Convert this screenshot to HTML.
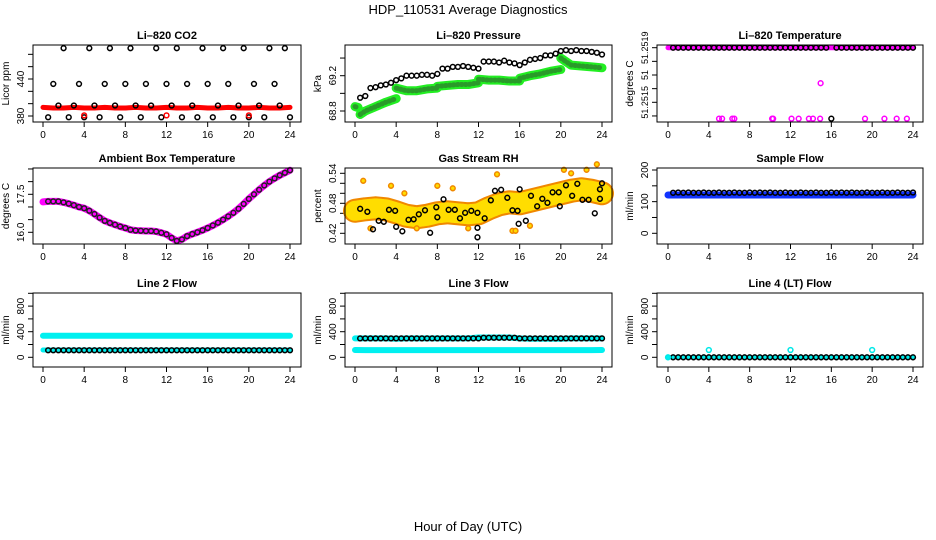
<!DOCTYPE html>
<html><head><meta charset="utf-8"><style>
html,body{margin:0;padding:0;background:#fff}
svg{display:block;font-family:"Liberation Sans",Arial,sans-serif}
</style></head><body>
<svg id="chart" width="936" height="540" viewBox="0 0 936 540" xmlns="http://www.w3.org/2000/svg">
<rect x="0" y="0" width="936" height="540" fill="#fff"/>
<text x="468" y="14" text-anchor="middle" font-size="13">HDP_110531  Average Diagnostics</text>
<text x="468" y="531" text-anchor="middle" font-size="13">Hour of Day (UTC)</text>
</svg>
<script>
// ---------- data ----------
const xTicks = [0,4,8,12,16,20,24];
const halfHours = [0.5,1,1.5,2,2.5,3,3.5,4,4.5,5,5.5,6,6.5,7,7.5,8,8.5,9,9.5,10,10.5,11,11.5,12,12.5,13,13.5,14,14.5,15,15.5,16,16.5,17,17.5,18,18.5,19,19.5,20,20.5,21,21.5,22,22.5,23,23.5,24];
const hourly = [0,1,2,3,4,5,6,7,8,9,10,11,12,13,14,15,16,17,18,19,20,21,22,23,24];

const co2Black = [378,432,397,490,378,397,432,378,490,397,378,432,490,397,378,432,490,397,378,432,397,490,378,432,397,490,378,432,397,378,490,432,378,397,490,432,378,397,490,378,432,397,378,490,432,397,490,378];
const co2Red = [394,393,393,394,393,393,394,393,393,394,393,393,394,393,393,394,393,393,394,393,393,394,393,393,394];
const co2RedPtsH = [4,12,20];
const co2RedPts = [381,381,381];

const presBlack = [68.95,68.97,69.06,69.07,69.09,69.1,69.12,69.15,69.17,69.2,69.2,69.2,69.21,69.21,69.2,69.22,69.28,69.28,69.3,69.3,69.31,69.3,69.29,69.28,69.36,69.36,69.36,69.35,69.37,69.35,69.34,69.32,69.35,69.38,69.39,69.4,69.43,69.43,69.45,69.48,69.49,69.48,69.49,69.48,69.48,69.47,69.46,69.44];
const presGreenH = [0,0.3,null,0.5,1,2,3,4,null,4,5,6,7,8,null,8,9,10,11,12,null,12,13,14,15,16,null,16,17,18,19,20,null,20,21,22,23,24];
const presGreen = [68.85,68.84,null,68.76,68.8,68.85,68.9,68.94,null,69.06,69.03,69.03,69.05,69.06,null,69.08,69.09,69.1,69.1,69.12,null,69.16,69.15,69.15,69.14,69.14,null,69.17,69.2,69.22,69.25,69.27,null,69.4,69.32,69.31,69.3,69.29];

const tempTop = 51.2519;
const tempBlackLowH = [16];
const tempBlackLow = [51.25138];
const tempMagH = [5,5.3,6.3,6.5,10.2,10.3,12.1,12.8,13.8,14.2,14.9,14.95,19.3,21.2,22.4,23.4];
const tempMag = [51.25138,51.25138,51.25138,51.25138,51.25138,51.25138,51.25138,51.25138,51.25138,51.25138,51.25138,51.25164,51.25138,51.25138,51.25138,51.25138];
const tempTicks = [51.2519,51.2518,51.2517,51.2516,51.2515,51.2514];
const tempTickLabels = ["51.2519","","51","","51.2515",""];

const ambHours = [0,0.5,1,1.5,2,2.5,3,3.5,4,4.5,5,5.5,6,6.5,7,7.5,8,8.5,9,9.5,10,10.5,11,11.5,12,12.5,13,13.5,14,14.5,15,15.5,16,16.5,17,17.5,18,18.5,19,19.5,20,20.5,21,21.5,22,22.5,23,23.5,24];
const ambTemp = [17.2,17.22,17.22,17.22,17.18,17.13,17.07,17.0,16.95,16.85,16.72,16.58,16.45,16.37,16.3,16.23,16.17,16.1,16.07,16.06,16.05,16.05,16.03,15.98,15.92,15.78,15.66,15.72,15.85,15.93,16.0,16.08,16.17,16.27,16.38,16.5,16.63,16.77,16.93,17.12,17.32,17.5,17.68,17.85,18.0,18.13,18.25,18.35,18.45];

const rhBand = [0.465,0.468,0.47,0.468,0.462,0.455,0.452,0.455,0.46,0.462,0.46,0.458,0.46,0.47,0.478,0.482,0.48,0.485,0.49,0.495,0.5,0.505,0.508,0.505,0.5];
const rhOutH = [0.8,3.5,4.8,8,9.5,13.8,15.3,15.6,20.3,22.5,23.5,21,1.5,6,11,17];
const rhOut = [0.525,0.515,0.5,0.515,0.51,0.538,0.425,0.425,0.547,0.547,0.558,0.54,0.43,0.43,0.43,0.435];
const rhBlackH = [0.5,1.2,1.75,2.3,2.8,3.3,3.9,4,4.6,5.2,5.7,6.2,6.8,7.3,7.9,8,8.6,9.1,9.7,10.2,10.7,11.3,11.9,11.9,11.9,12.6,13.2,13.6,14.2,14.8,15.3,15.8,15.9,16,16.6,17.1,17.7,18.2,18.7,19.2,19.8,19.9,20.5,21.1,21.6,22.1,22.7,23.3,23.8,23.8,24];
const rhBlack = [0.469,0.463,0.428,0.445,0.443,0.467,0.465,0.433,0.424,0.447,0.448,0.458,0.466,0.421,0.472,0.452,0.488,0.467,0.467,0.45,0.461,0.465,0.461,0.431,0.412,0.45,0.486,0.505,0.507,0.491,0.466,0.465,0.439,0.508,0.445,0.495,0.474,0.489,0.481,0.502,0.502,0.474,0.516,0.495,0.519,0.487,0.487,0.46,0.508,0.489,0.52];

const sampBlack = [128,129,128,129,128,128,129,128,128,129,128,128,129,128,128,129,128,129,128,129,128,128,129,128,128,129,128,128,129,128,128,129,128,129,128,129,128,128,129,128,128,129,128,128,129,128,128,129];
const sampBlueH = [0,1,2,3,4,null,4.2,5,6,7,8,null,8.2,9,10,11,12,null,12.2,13,14,15,16,null,16.2,17,18,19,20,null,20.2,21,22,23,24];
const sampBlue = [121,121,121,121,121,null,121,121,121,121,121,null,121,121,121,121,121,null,121,121,121,121,121,null,121,121,121,121,121,null,121,121,121,121,121];

const l2Cyan = [338,338,338,338,336,338,338,338,338,338,338,338,338,338,338,338,338,338,338,338,336,338,338,338,338];
const l2CyanLow = [114,114,114,114,114,114,114,114,114,114,114,114,114,114,114,114,114,114,114,114,114,114,114,114,114];
const l2Black = [110,110,110,110,110,110,110,110,110,110,110,110,110,110,110,110,110,110,110,110,110,110,110,110,110,110,110,110,110,110,110,110,110,110,110,110,110,110,110,110,110,110,110,110,110,110,110,110];

const l3Cyan = [296,296,296,296,290,296,296,296,296,296,296,296,310,310,310,310,296,290,290,290,290,296,296,296,296];
const l3CyanLow = [114,112,112,112,112,112,112,112,112,112,112,112,112,112,112,112,112,112,112,112,112,112,112,112,114];
const l3Black = [296,296,296,296,296,296,296,296,296,296,296,296,296,296,296,296,296,296,296,296,296,296,296,296,305,305,305,305,305,305,305,296,296,296,296,296,296,296,296,296,296,296,296,296,296,296,296,296];

const l4Cyan = [0,0,0,0,0,0,0,0,0,0,0,0,0,0,0,0,0,0,0,0,0,0,0,0,0];
const l4Black = [0,0,0,0,0,0,0,0,0,0,0,0,0,0,0,0,0,0,0,0,0,0,0,0,0,0,0,0,0,0,0,0,0,0,0,0,0,0,0,0,0,0,0,0,0,0,0,0];
const l4CyanPtsH = [0,4,12,20];
const l4CyanPts = [0,114,114,114];

// ---------- drawing ----------
const svg = document.getElementById('chart');
const NS = 'http://www.w3.org/2000/svg';
function el(tag, attrs, parent){ const e=document.createElementNS(NS,tag); for(const k in attrs) e.setAttribute(k,attrs[k]); (parent||svg).appendChild(e); return e; }

function makePanel(cfg){
  const g = el('g',{});
  
  
  const sx = h => cfg.x0 + h*(cfg.x24-cfg.x0)/24;
  const sy = v => cfg.ya + (v-cfg.va)*(cfg.yb-cfg.ya)/(cfg.vb-cfg.va);
  const t = el('text',{x:(cfg.L+cfg.R)/2,y:cfg.T-6,'text-anchor':'middle','font-size':11,'font-weight':'bold'},g);
  t.textContent = cfg.title;
  
  
  const xa = el('g',{},g);
  
  
  el('line',{x1:sx(xTicks[0]),x2:sx(xTicks[xTicks.length-1]),y1:cfg.B,y2:cfg.B,stroke:'#000'},xa);
  xTicks.forEach(v=>{
    el('line',{x1:sx(v),x2:sx(v),y1:cfg.B,y2:cfg.B+5,stroke:'#000'},xa);
    const tx = el('text',{x:sx(v),y:cfg.B+16,'text-anchor':'middle','font-size':10},xa);
    tx.textContent = v;
    
    
  });
  const ya = el('g',{},g);
  
  
  el('line',{x1:cfg.L,x2:cfg.L,y1:sy(cfg.ticks[0]),y2:sy(cfg.ticks[cfg.ticks.length-1]),stroke:'#000'},ya);
  cfg.ticks.forEach((v,i)=>{
    el('line',{x1:cfg.L-5,x2:cfg.L,y1:sy(v),y2:sy(v),stroke:'#000'},ya);
    const lab = cfg.labels[i];
    if(lab!==''){
      const tx = el('text',{x:cfg.L-9,y:sy(v),'text-anchor':'middle','font-size':cfg.tfs||10,transform:`rotate(-90 ${cfg.L-9} ${sy(v)})`},ya);
      tx.textContent = lab;
      
      
    }
  });
  const yt = el('text',{x:cfg.ytx,y:(cfg.T+cfg.B)/2,'text-anchor':'middle','font-size':10,transform:`rotate(-90 ${cfg.ytx} ${(cfg.T+cfg.B)/2})`},g);
  yt.textContent = cfg.ylabel;
  
  
  const plot = el('g',{},g);
  
  
  return {g, plot, sx, sy, cfg};
}
function finishBox(p){
  const b = el('rect',{x:p.cfg.L,y:p.cfg.T,width:p.cfg.R-p.cfg.L,height:p.cfg.B-p.cfg.T,fill:'none',stroke:'#000'},p.g);
  
  
}
function band(p, hs, vs, color, w, name){
  let d='', pen=false;
  hs.forEach((h,i)=>{
    if(h===null||vs[i]===null){pen=false;return;}
    d += (pen?'L':'M') + p.sx(h).toFixed(1)+' '+p.sy(vs[i]).toFixed(1)+' ';
    pen=true;
  });
  const e = el('path',{d:d,fill:'none',stroke:color,'stroke-width':w,'stroke-linejoin':'round','stroke-linecap':'round'},p.plot);
  
  
  return e;
}
function points(p, hs, vs, color, name, fill, r){
  const grp = el('g',{},p.plot);
  
  
  hs.forEach((h,i)=>{
    const c = el('circle',{cx:p.sx(h),cy:p.sy(vs[i]),r:r||2.4,fill:fill||'none',stroke:color,'stroke-width':1.5},grp);
    
    
  });
}
function constArr(n,v){ const a=[]; for(let i=0;i<n;i++) a.push(v); return a; }

const col = [{L:33,R:301,x0:43,x24:290,ytx:9},{L:345,R:612,x0:355,x24:602,ytx:321},{L:657,R:923,x0:668,x24:913,ytx:633}];
const row = [{T:45,B:122},{T:168,B:244},{T:293,B:367}];
function base(c,r){ return Object.assign({},col[c],row[r]); }

// Panel 1: CO2
let p = makePanel(Object.assign(base(0,0),{name:'panel-li820-co2',title:'Li\u2013820 CO2',ylabel:'Licor ppm',va:380,ya:116,vb:440,yb:79,ticks:[380,400,420,440,460,480],labels:['380','','','440','','']}));
band(p, hourly, co2Red, '#f00', 5, 'co2-red-band');
points(p, halfHours, co2Black, '#000', 'co2-black-points');
points(p, co2RedPtsH, co2RedPts, '#f00', 'co2-red-points');
finishBox(p);

// Panel 2: Pressure
p = makePanel(Object.assign(base(1,0),{name:'panel-li820-pressure',title:'Li\u2013820 Pressure',ylabel:'kPa',va:68.8,ya:111,vb:69.2,yb:75.7,ticks:[68.8,69.0,69.2,69.4],labels:['68.8','','69.2','']}));
band(p, presGreenH, presGreen, '#22ee22', 9, 'pressure-green-band');
band(p, presGreenH, presGreen, '#2a9a2a', 5, 'pressure-green-core').setAttribute('stroke-dasharray','1 3');
points(p, halfHours, presBlack, '#000', 'pressure-black-points');
finishBox(p);

// Panel 3: Temperature
p = makePanel(Object.assign(base(2,0),{name:'panel-li820-temperature',title:'Li\u2013820 Temperature',ylabel:'degrees C',va:51.2519,ya:47.7,vb:51.2515,yb:102.3,ticks:tempTicks,labels:tempTickLabels,tfs:9}));
band(p, [0,24], [tempTop,tempTop], '#ff00ff', 5, 'temp-magenta-band');
points(p, halfHours.filter(h=>h!==16), constArr(47,tempTop), '#000', 'temp-black-points');
points(p, tempBlackLowH, tempBlackLow, '#000', 'temp-black-low-points');
points(p, tempMagH, tempMag, '#ff00ff', 'temp-magenta-points');
finishBox(p);

// Panel 4: Ambient
p = makePanel(Object.assign(base(0,1),{name:'panel-ambient-box-temperature',title:'Ambient Box Temperature',ylabel:'degrees C',va:16.0,ya:232.3,vb:17.5,yb:194.3,ticks:[16.0,16.5,17.0,17.5,18.0,18.5],labels:['16.0','','','17.5','','']}));
band(p, ambHours, ambTemp, '#ff00ff', 7, 'ambient-magenta-band');
points(p, ambHours.slice(1), ambTemp.slice(1), '#222', 'ambient-black-points');
finishBox(p);

// Panel 5: RH
p = makePanel(Object.assign(base(1,1),{name:'panel-gas-stream-rh',title:'Gas Stream RH',ylabel:'percent',va:0.42,ya:233.3,vb:0.54,yb:173.3,ticks:[0.42,0.44,0.46,0.48,0.50,0.52,0.54],labels:['0.42','','','0.48','','','0.54']}));
band(p, hourly, rhBand, '#f08800', 24, 'rh-orange-band');
band(p, hourly, rhBand, '#ffdd00', 20, 'rh-yellow-dots').setAttribute('stroke-dasharray','1.5 1.5');
points(p, rhOutH, rhOut, '#f08800', 'rh-orange-points', '#ffdd00');
points(p, rhBlackH, rhBlack, '#000', 'rh-black-points');
finishBox(p);

// Panel 6: Sample flow
p = makePanel(Object.assign(base(2,1),{name:'panel-sample-flow',title:'Sample Flow',ylabel:'ml/min',va:0,ya:233.3,vb:200,yb:170,ticks:[0,50,100,150,200],labels:['0','','100','','200']}));
band(p, sampBlueH, sampBlue, '#1133ff', 7, 'sample-blue-band');
points(p, halfHours, sampBlack, '#000', 'sample-black-points');
finishBox(p);

// Panel 7: Line 2
const flowY = {va:0,ya:357.3,vb:400,yb:331.7,ticks:[0,200,400,600,800,1000],labels:['0','','400','','800','']};
p = makePanel(Object.assign(base(0,2),flowY,{name:'panel-line2-flow',title:'Line 2 Flow',ylabel:'ml/min'}));
band(p, hourly, l2Cyan, '#00f0f0', 6, 'line2-cyan-band');
band(p, hourly, l2CyanLow, '#00f0f0', 5, 'line2-cyan-low-band');
points(p, halfHours, l2Black, '#000', 'line2-black-points');
finishBox(p);

// Panel 8: Line 3
p = makePanel(Object.assign(base(1,2),flowY,{name:'panel-line3-flow',title:'Line 3 Flow',ylabel:'ml/min'}));
band(p, hourly, l3Cyan, '#00f0f0', 6, 'line3-cyan-band');
band(p, hourly, l3CyanLow, '#00f0f0', 6, 'line3-cyan-low-band');
points(p, halfHours, l3Black, '#000', 'line3-black-points');
finishBox(p);

// Panel 9: Line 4
p = makePanel(Object.assign(base(2,2),flowY,{name:'panel-line4-lt-flow',title:'Line 4 (LT) Flow',ylabel:'ml/min'}));
band(p, hourly, l4Cyan, '#00f0f0', 4, 'line4-cyan-band');
points(p, halfHours, l4Black, '#000', 'line4-black-points');
points(p, l4CyanPtsH, l4CyanPts, '#00e8e8', 'line4-cyan-points');
finishBox(p);
</script>
</body></html>
